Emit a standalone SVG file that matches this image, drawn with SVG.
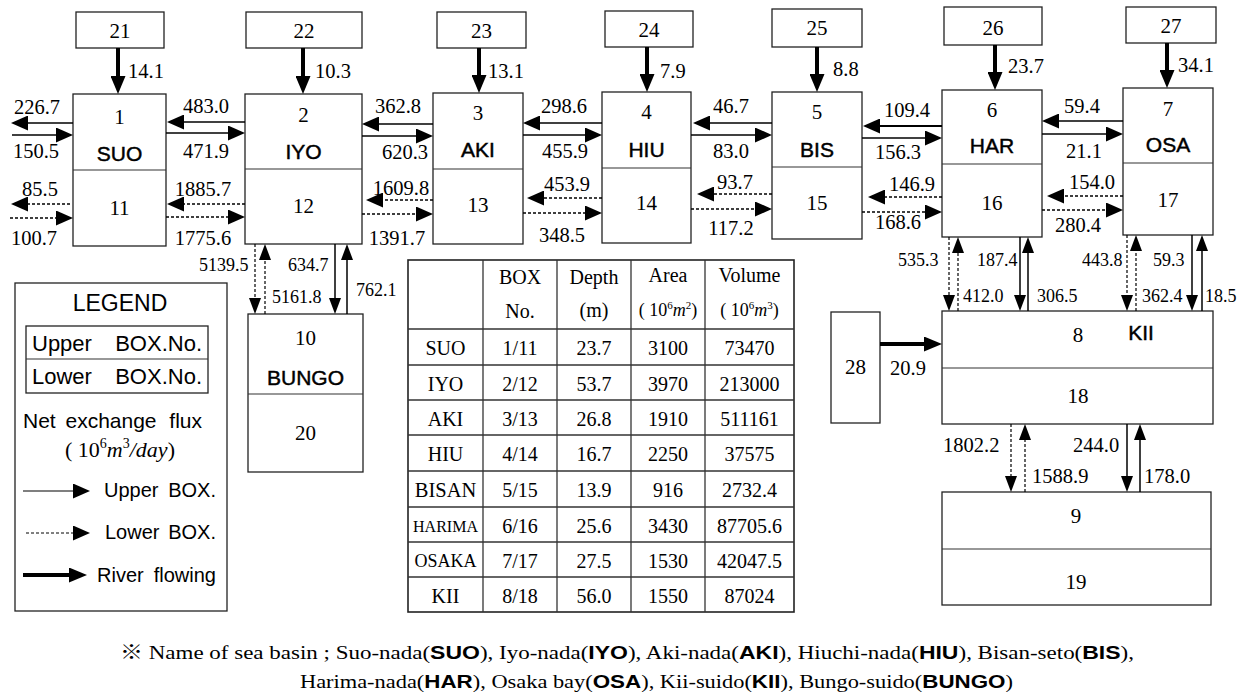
<svg xmlns="http://www.w3.org/2000/svg" width="1246" height="693" viewBox="0 0 1246 693">
<defs>
<style>
.bx{fill:#fff;stroke:#222;stroke-width:1.3}
.dv{stroke:#333;stroke-width:1.2}
.n{font-family:"Liberation Serif",serif;font-size:21px;fill:#000;text-anchor:middle}
.nm{font-family:"Liberation Sans",Arial,sans-serif;font-size:21px;fill:#000;text-anchor:middle;stroke:#000;stroke-width:0.45}
.f{font-family:"Liberation Serif",serif;font-size:20.5px;fill:#000;text-anchor:middle}
.fv{font-family:"Liberation Serif",serif;font-size:18px;fill:#000}
.s{stroke:#000;stroke-width:1.6;fill:none;marker-end:url(#ah)}
.d{stroke:#000;stroke-width:1.3;stroke-dasharray:3 2;fill:none;marker-end:url(#ah)}
.sv{stroke:#000;stroke-width:1.5;fill:none;marker-end:url(#av)}
.dvv{stroke:#000;stroke-width:1.2;stroke-dasharray:3 2;fill:none;marker-end:url(#av)}
.r{stroke:#000;stroke-width:4;fill:none;marker-end:url(#ar)}
.lg{font-family:"Liberation Sans",Arial,sans-serif;font-size:22px;fill:#000}
.lg2{font-family:"Liberation Sans",Arial,sans-serif;font-size:20px;fill:#000}
.t{font-family:"Liberation Serif",serif;font-size:20px;fill:#000;text-anchor:middle}
.tl{stroke:#333;stroke-width:1.3}
.nt{font-family:"Liberation Serif","Noto Sans CJK JP",serif;font-size:19px;fill:#000}
.b{font-family:"Liberation Sans",Arial,sans-serif;font-weight:bold}
</style>
<marker id="ah" viewBox="0 0 17 15" refX="13" refY="7.5" markerWidth="17" markerHeight="15" markerUnits="userSpaceOnUse" orient="auto"><path d="M0,0L17,7.5L0,15z" fill="#000"/></marker>
<marker id="av" viewBox="0 0 16 12" refX="12" refY="6" markerWidth="16" markerHeight="12" markerUnits="userSpaceOnUse" orient="auto"><path d="M0,0L16,6L0,12z" fill="#000"/></marker>
<marker id="ar" viewBox="0 0 18 15" refX="10" refY="7.5" markerWidth="18" markerHeight="15" markerUnits="userSpaceOnUse" orient="auto"><path d="M0,0L18,7.5L0,15z" fill="#000"/></marker>
</defs>
<rect width="1246" height="693" fill="#fff"/>

<!-- river source boxes -->
<g id="n21"><rect class="bx" x="76" y="12" width="88" height="36"/><text class="n" x="120" y="38">21</text></g>
<g id="n22"><rect class="bx" x="246" y="12" width="116" height="36"/><text class="n" x="304" y="38">22</text></g>
<g id="n23"><rect class="bx" x="437" y="12" width="89" height="36"/><text class="n" x="481.5" y="38">23</text></g>
<g id="n24"><rect class="bx" x="605" y="11" width="88" height="36"/><text class="n" x="649" y="37">24</text></g>
<g id="n25"><rect class="bx" x="772" y="9" width="90" height="38"/><text class="n" x="817" y="35">25</text></g>
<g id="n26"><rect class="bx" x="944" y="7" width="98" height="38"/><text class="n" x="993" y="35">26</text></g>
<g id="n27"><rect class="bx" x="1126" y="7" width="90" height="36"/><text class="n" x="1171" y="33">27</text></g>
<g id="n28"><rect class="bx" x="831" y="312" width="49" height="111"/><text class="n" x="855.5" y="374">28</text></g>

<!-- basin boxes -->
<g id="n1"><rect class="bx" x="73" y="94" width="93" height="152"/><line class="dv" x1="73" y1="170" x2="166" y2="170"/><text class="n" x="119.5" y="124">1</text><text class="nm" x="119.5" y="161">SUO</text><text class="n" x="119.5" y="215">11</text></g>
<g id="n2"><rect class="bx" x="245" y="94" width="117" height="150"/><line class="dv" x1="245" y1="169" x2="362" y2="169"/><text class="n" x="303.5" y="122">2</text><text class="nm" x="303.5" y="159">IYO</text><text class="n" x="303.5" y="213">12</text></g>
<g id="n3"><rect class="bx" x="433" y="93" width="90" height="151"/><line class="dv" x1="433" y1="169" x2="523" y2="169"/><text class="n" x="478" y="120">3</text><text class="nm" x="478" y="157">AKI</text><text class="n" x="478" y="212">13</text></g>
<g id="n4"><rect class="bx" x="602" y="92" width="89" height="151"/><line class="dv" x1="602" y1="168" x2="691" y2="168"/><text class="n" x="646.5" y="119">4</text><text class="nm" x="646.5" y="157">HIU</text><text class="n" x="646.5" y="210">14</text></g>
<g id="n5"><rect class="bx" x="772" y="92" width="90" height="147"/><line class="dv" x1="772" y1="167" x2="862" y2="167"/><text class="n" x="817" y="119">5</text><text class="nm" x="817" y="157">BIS</text><text class="n" x="817" y="210">15</text></g>
<g id="n6"><rect class="bx" x="942" y="90" width="100" height="147"/><line class="dv" x1="942" y1="164" x2="1042" y2="164"/><text class="n" x="992" y="117">6</text><text class="nm" x="992" y="153">HAR</text><text class="n" x="992" y="210">16</text></g>
<g id="n7"><rect class="bx" x="1123" y="88" width="90" height="147"/><line class="dv" x1="1123" y1="163" x2="1213" y2="163"/><text class="n" x="1168" y="116">7</text><text class="nm" x="1168" y="152">OSA</text><text class="n" x="1168" y="207">17</text></g>
<g id="n10"><rect class="bx" x="248" y="314" width="115" height="158"/><line class="dv" x1="248" y1="394" x2="363" y2="394"/><text class="n" x="305.5" y="345">10</text><text class="nm" x="305.5" y="385">BUNGO</text><text class="n" x="305.5" y="440">20</text></g>
<g id="n8"><rect class="bx" x="942" y="311" width="271" height="113"/><line class="dv" x1="942" y1="368" x2="1213" y2="368"/><text class="n" x="1078" y="342">8</text><text class="nm" x="1141" y="340">KII</text><text class="n" x="1078" y="403">18</text></g>
<g id="n9"><rect class="bx" x="942" y="492" width="269" height="113"/><line class="dv" x1="942" y1="549" x2="1211" y2="549"/><text class="n" x="1076" y="523">9</text><text class="n" x="1076" y="589">19</text></g>

<!-- connectors -->
<g id="connectors">
<line class="r" x1="118" y1="48" x2="118" y2="86"/>
<line class="r" x1="303" y1="48" x2="303" y2="86"/>
<line class="r" x1="479" y1="48" x2="479" y2="85"/>
<line class="r" x1="647" y1="47" x2="647" y2="84"/>
<line class="r" x1="817" y1="47" x2="817" y2="84"/>
<line class="r" x1="995" y1="45" x2="995" y2="82"/>
<line class="r" x1="1167" y1="43" x2="1167" y2="80"/>
<line class="r" x1="880" y1="344" x2="934" y2="344"/>

<line class="s" x1="73" y1="123" x2="15" y2="123"/>
<line class="s" x1="12" y1="135" x2="69" y2="135"/>
<line class="d" x1="70" y1="204" x2="15" y2="204"/>
<line class="d" x1="10" y1="218" x2="69" y2="218"/>

<line class="s" x1="245" y1="122" x2="171" y2="122"/>
<line class="s" x1="166" y1="133" x2="241" y2="133"/>
<line class="d" x1="245" y1="204" x2="171" y2="204"/>
<line class="d" x1="166" y1="217" x2="241" y2="217"/>

<line class="s" x1="433" y1="124" x2="366" y2="124"/>
<line class="s" x1="362" y1="136" x2="429" y2="136"/>
<line class="d" x1="433" y1="200" x2="370" y2="200"/>
<line class="d" x1="362" y1="214" x2="429" y2="214"/>

<line class="s" x1="602" y1="123" x2="527" y2="123"/>
<line class="s" x1="523" y1="135" x2="598" y2="135"/>
<line class="d" x1="602" y1="198" x2="531" y2="198"/>
<line class="d" x1="523" y1="213" x2="598" y2="213"/>

<line class="s" x1="772" y1="123" x2="697" y2="123"/>
<line class="s" x1="691" y1="135" x2="768" y2="135"/>
<line class="d" x1="772" y1="194" x2="701" y2="194"/>
<line class="d" x1="691" y1="209" x2="768" y2="209"/>

<line class="s" x1="942" y1="126" x2="867" y2="126" style="stroke-width:2.2"/>
<line class="s" x1="862" y1="138" x2="938" y2="138"/>
<line class="d" x1="942" y1="197" x2="872" y2="197"/>
<line class="d" x1="862" y1="212" x2="938" y2="212"/>

<line class="s" x1="1123" y1="121" x2="1046" y2="121"/>
<line class="s" x1="1042" y1="134" x2="1119" y2="134"/>
<line class="d" x1="1123" y1="196" x2="1051" y2="196"/>
<line class="d" x1="1042" y1="210" x2="1119" y2="210"/>

<line class="dvv" x1="255" y1="244" x2="255" y2="310"/>
<line class="dvv" x1="265" y1="314" x2="265" y2="248"/>
<line class="sv" x1="335" y1="244" x2="335" y2="310"/>
<line class="sv" x1="347" y1="314" x2="347" y2="248"/>

<line class="dvv" x1="949" y1="237" x2="949" y2="307"/>
<line class="dvv" x1="958" y1="311" x2="958" y2="241"/>
<line class="sv" x1="1020" y1="237" x2="1020" y2="307"/>
<line class="sv" x1="1028" y1="311" x2="1028" y2="241"/>

<line class="dvv" x1="1127" y1="235" x2="1127" y2="307"/>
<line class="dvv" x1="1136" y1="311" x2="1136" y2="239"/>
<line class="sv" x1="1192" y1="235" x2="1192" y2="307"/>
<line class="sv" x1="1202" y1="311" x2="1202" y2="239"/>

<line class="dvv" x1="1011" y1="424" x2="1011" y2="488"/>
<line class="dvv" x1="1025" y1="492" x2="1025" y2="428"/>
<line class="sv" x1="1127" y1="424" x2="1127" y2="488"/>
<line class="sv" x1="1140" y1="492" x2="1140" y2="428"/>
</g>

<!-- flux labels -->
<g id="labels">
<text class="fv" x="128" y="78" style="font-size:20.5px">14.1</text>
<text class="fv" x="315" y="78" style="font-size:20.5px">10.3</text>
<text class="fv" x="488" y="78" style="font-size:20.5px">13.1</text>
<text class="fv" x="660" y="78" style="font-size:20.5px">7.9</text>
<text class="fv" x="833" y="76" style="font-size:20.5px">8.8</text>
<text class="fv" x="1008" y="73" style="font-size:20.5px">23.7</text>
<text class="fv" x="1178" y="72" style="font-size:20.5px">34.1</text>
<text class="fv" x="890" y="375" style="font-size:20.5px">20.9</text>

<text class="f" x="37" y="114">226.7</text>
<text class="f" x="36" y="158">150.5</text>
<text class="f" x="40" y="196">85.5</text>
<text class="f" x="34" y="245">100.7</text>
<text class="f" x="206" y="113">483.0</text>
<text class="f" x="206" y="158">471.9</text>
<text class="f" x="203" y="196">1885.7</text>
<text class="f" x="203" y="245">1775.6</text>
<text class="f" x="398" y="113">362.8</text>
<text class="f" x="405" y="159">620.3</text>
<text class="f" x="401" y="195">1609.8</text>
<text class="f" x="397" y="245">1391.7</text>
<text class="f" x="564" y="113">298.6</text>
<text class="f" x="565" y="158">455.9</text>
<text class="f" x="567" y="191">453.9</text>
<text class="f" x="562" y="242">348.5</text>
<text class="f" x="731" y="113">46.7</text>
<text class="f" x="731" y="158">83.0</text>
<text class="f" x="735" y="189">93.7</text>
<text class="f" x="731" y="235">117.2</text>
<text class="f" x="907" y="117">109.4</text>
<text class="f" x="898" y="159">156.3</text>
<text class="f" x="912" y="191">146.9</text>
<text class="f" x="898" y="229">168.6</text>
<text class="f" x="1082" y="113">59.4</text>
<text class="f" x="1084" y="158">21.1</text>
<text class="f" x="1092" y="189">154.0</text>
<text class="f" x="1078" y="232">280.4</text>

<text class="fv" x="199" y="271">5139.5</text>
<text class="fv" x="288" y="271">634.7</text>
<text class="fv" x="272" y="303">5161.8</text>
<text class="fv" x="356" y="296">762.1</text>

<text class="fv" x="898" y="266">535.3</text>
<text class="fv" x="977" y="266">187.4</text>
<text class="fv" x="963" y="302">412.0</text>
<text class="fv" x="1037" y="302">306.5</text>
<text class="fv" x="1082" y="266">443.8</text>
<text class="fv" x="1153" y="266">59.3</text>
<text class="fv" x="1142" y="302">362.4</text>
<text class="fv" x="1205" y="302">18.5</text>

<text class="fv" x="943" y="452" style="font-size:20.5px">1802.2</text>
<text class="fv" x="1032" y="483" style="font-size:20.5px">1588.9</text>
<text class="fv" x="1073" y="452" style="font-size:20.5px">244.0</text>
<text class="fv" x="1144" y="483" style="font-size:20.5px">178.0</text>
</g>

<!-- legend -->
<g id="legend">
<rect class="bx" x="15" y="283" width="212" height="328"/>
<text class="lg" x="120" y="311" text-anchor="middle" style="font-size:23px">LEGEND</text>
<rect class="bx" x="26" y="326" width="182" height="67"/>
<line class="dv" x1="26" y1="359" x2="208" y2="359"/>
<text class="lg" x="32" y="351">Upper</text><text class="lg" x="202" y="351" text-anchor="end">BOX.No.</text>
<text class="lg" x="32" y="384">Lower</text><text class="lg" x="202" y="384" text-anchor="end">BOX.No.</text>
<text class="lg" x="23" y="428" style="font-size:21px">Net</text><text class="lg" x="111" y="428" text-anchor="middle" style="font-size:21px">exchange</text><text class="lg" x="202" y="428" text-anchor="end" style="font-size:21px">flux</text>
<text class="n" x="120" y="457" style="font-size:22px">( 10<tspan dy="-9" style="font-size:14px">6</tspan><tspan dy="9" font-style="italic">m</tspan><tspan dy="-9" style="font-size:14px">3</tspan><tspan dy="9" font-style="italic">/day</tspan>)</text>
<line class="s" x1="23" y1="491" x2="86" y2="491" style="stroke-width:1.2"/>
<text class="lg2" x="104" y="497">Upper</text><text class="lg2" x="216" y="497" text-anchor="end">BOX.</text>
<line class="d" x1="26" y1="533" x2="86" y2="533" style="stroke-width:1"/>
<text class="lg2" x="105" y="539">Lower</text><text class="lg2" x="216" y="539" text-anchor="end">BOX.</text>
<line class="r" x1="23" y1="575" x2="79" y2="575"/>
<text class="lg2" x="97" y="582">River</text><text class="lg2" x="216" y="582" text-anchor="end">flowing</text>
</g>

<!-- table -->
<g id="table">
<rect x="408" y="260" width="386" height="352" fill="#fff" stroke="#222" stroke-width="1.6"/>
<line class="tl" x1="483" y1="260" x2="483" y2="612"/>
<line class="tl" x1="557" y1="260" x2="557" y2="612"/>
<line class="tl" x1="631" y1="260" x2="631" y2="612"/>
<line class="tl" x1="705" y1="260" x2="705" y2="612"/>
<line class="tl" x1="408" y1="329" x2="794" y2="329"/>
<line class="tl" x1="408" y1="365" x2="794" y2="365"/>
<line class="tl" x1="408" y1="400" x2="794" y2="400"/>
<line class="tl" x1="408" y1="435" x2="794" y2="435"/>
<line class="tl" x1="408" y1="471" x2="794" y2="471"/>
<line class="tl" x1="408" y1="507" x2="794" y2="507"/>
<line class="tl" x1="408" y1="542" x2="794" y2="542"/>
<line class="tl" x1="408" y1="577" x2="794" y2="577"/>
<text class="t" x="520" y="284">BOX</text>
<text class="t" x="520" y="318">No.</text>
<text class="t" x="594" y="284">Depth</text>
<text class="t" x="594" y="317">(m)</text>
<text class="t" x="668" y="282">Area</text>
<text class="t" x="668" y="316" style="font-size:18px">( 10<tspan dy="-7" style="font-size:11px">6</tspan><tspan dy="7" font-style="italic">m</tspan><tspan dy="-7" style="font-size:11px">2</tspan><tspan dy="7">)</tspan></text>
<text class="t" x="749.5" y="282">Volume</text>
<text class="t" x="749.5" y="316" style="font-size:18px">( 10<tspan dy="-7" style="font-size:11px">6</tspan><tspan dy="7" font-style="italic">m</tspan><tspan dy="-7" style="font-size:11px">3</tspan><tspan dy="7">)</tspan></text>

<text class="t" x="445.5" y="355">SUO</text><text class="t" x="520" y="355">1/11</text><text class="t" x="594" y="355">23.7</text><text class="t" x="668" y="355">3100</text><text class="t" x="749.5" y="355">73470</text>
<text class="t" x="445.5" y="390.5">IYO</text><text class="t" x="520" y="390.5">2/12</text><text class="t" x="594" y="390.5">53.7</text><text class="t" x="668" y="390.5">3970</text><text class="t" x="749.5" y="390.5">213000</text>
<text class="t" x="445.5" y="425.5">AKI</text><text class="t" x="520" y="425.5">3/13</text><text class="t" x="594" y="425.5">26.8</text><text class="t" x="668" y="425.5">1910</text><text class="t" x="749.5" y="425.5">511161</text>
<text class="t" x="445.5" y="461">HIU</text><text class="t" x="520" y="461">4/14</text><text class="t" x="594" y="461">16.7</text><text class="t" x="668" y="461">2250</text><text class="t" x="749.5" y="461">37575</text>
<text class="t" x="445.5" y="497" style="font-size:20.5px">BISAN</text><text class="t" x="520" y="497">5/15</text><text class="t" x="594" y="497">13.9</text><text class="t" x="668" y="497">916</text><text class="t" x="749.5" y="497">2732.4</text>
<text class="t" x="445.5" y="532" style="font-size:16px">HARIMA</text><text class="t" x="520" y="532.5">6/16</text><text class="t" x="594" y="532.5">25.6</text><text class="t" x="668" y="532.5">3430</text><text class="t" x="749.5" y="532.5">87705.6</text>
<text class="t" x="445.5" y="567" style="font-size:18px">OSAKA</text><text class="t" x="520" y="567.5">7/17</text><text class="t" x="594" y="567.5">27.5</text><text class="t" x="668" y="567.5">1530</text><text class="t" x="749.5" y="567.5">42047.5</text>
<text class="t" x="445.5" y="602.5">KII</text><text class="t" x="520" y="602.5">8/18</text><text class="t" x="594" y="602.5">56.0</text><text class="t" x="668" y="602.5">1550</text><text class="t" x="749.5" y="602.5">87024</text>
</g>

<!-- note -->
<g id="note">
<text class="nt" x="120" y="659" textLength="1014" lengthAdjust="spacingAndGlyphs">※ Name of sea basin ; Suo-nada(<tspan class="b">SUO</tspan>), Iyo-nada(<tspan class="b">IYO</tspan>), Aki-nada(<tspan class="b">AKI</tspan>), Hiuchi-nada(<tspan class="b">HIU</tspan>), Bisan-seto(<tspan class="b">BIS</tspan>),</text>
<text class="nt" x="300" y="688" textLength="713" lengthAdjust="spacingAndGlyphs">Harima-nada(<tspan class="b">HAR</tspan>), Osaka bay(<tspan class="b">OSA</tspan>), Kii-suido(<tspan class="b">KII</tspan>), Bungo-suido(<tspan class="b">BUNGO</tspan>)</text>
</g>
</svg>
